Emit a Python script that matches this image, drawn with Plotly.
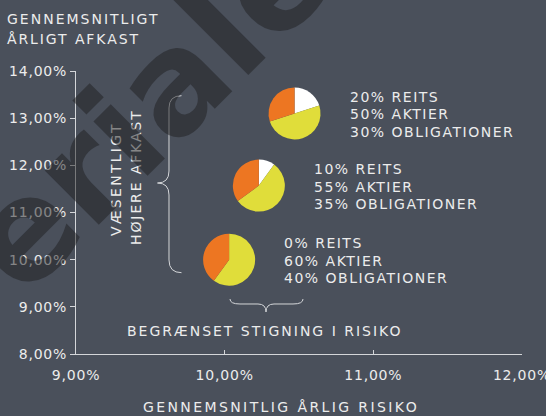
import plotly.graph_objects as go

# ---- data ----
risk = [10.03, 10.23, 10.47]          # gennemsnitlig årlig risiko (%)
ret = [10.0, 11.57, 13.1]             # gennemsnitligt årligt afkast (%)
reits = [0, 10, 20]
aktier = [60, 55, 50]
oblig = [40, 35, 30]
slice_names = ["REITS", "AKTIER", "OBLIGATIONER"]
slice_colors = ["#ffffff", "#e0dd3a", "#ed7622"]
xtick_vals = [9, 10, 11, 12]
xtick_text = ["9,00%", "10,00%", "11,00%", "12,00%"]
ytick_vals = [8, 9, 10, 11, 12, 13, 14]
ytick_text = ["8,00%", "9,00%", "10,00%", "11,00%", "12,00%", "13,00%", "14,00%"]

# ---- layout geometry ----
W, H = 546, 416
ML, MR, MT, MB = 76, 24, 71, 62
PW, PH = W - ML - MR, H - MT - MB
XR, YR = (9, 12), (8, 14)
R = 26  # pie radius px
BG = "#4a505b"
TXT = "#ececec"
LINE = "#d4d6d9"
FONT = "DejaVu Sans"
FS = 14


def ls(text, sp):
    return f'<span style="letter-spacing:{sp}px">{text}</span>'


def xf(v):
    return (v - XR[0]) / (XR[1] - XR[0])


def yf(v):
    return (v - YR[0]) / (YR[1] - YR[0])


def px(x):
    return (x - ML) / PW


def py(y):
    return (H - MB - y) / PH


fig = go.Figure()
fig.add_trace(go.Scatter(x=risk, y=ret, mode="markers", marker=dict(opacity=0),
                         hoverinfo="skip", showlegend=False))

for i in range(len(risk)):
    cx, cy = xf(risk[i]), yf(ret[i])
    fig.add_trace(go.Pie(
        values=[reits[i], aktier[i], oblig[i]], labels=slice_names,
        marker=dict(colors=slice_colors, line=dict(width=0)),
        sort=False, direction="clockwise", rotation=0,
        textinfo="none", hoverinfo="label+percent", showlegend=False,
        domain=dict(x=[cx - R / PW, cx + R / PW], y=[cy - R / PH, cy + R / PH]),
    ))

annotations = []
for i in range(len(risk)):
    lines = [f"{reits[i]}% REITS", f"{aktier[i]}% AKTIER", f"{oblig[i]}% OBLIGATIONER"]
    for j, t in enumerate(lines):
        annotations.append(dict(
            x=risk[i], y=ret[i], xref="x", yref="y", text=ls(t, 1.5), showarrow=False,
            xanchor="left", yanchor="middle", xshift=53, yshift=(1 - j) * 17.3 - 1,
            font=dict(family=FONT, size=FS, color=TXT)))

# titles and notes
annotations += [
    dict(x=px(5), y=py(19), xref="paper", yref="paper", text=ls("GENNEMSNITLIGT", 2),
         showarrow=False, xanchor="left", yanchor="middle",
         font=dict(family=FONT, size=FS, color=TXT)),
    dict(x=px(5), y=py(39), xref="paper", yref="paper", text=ls("ÅRLIGT AFKAST", 1.9),
         showarrow=False, xanchor="left", yanchor="middle",
         font=dict(family=FONT, size=FS, color=TXT)),
    dict(x=px(281), y=py(407), xref="paper", yref="paper",
         text=ls("GENNEMSNITLIG ÅRLIG RISIKO", 2.4),
         showarrow=False, xanchor="center", yanchor="middle",
         font=dict(family=FONT, size=FS, color=TXT)),
    dict(x=px(265), y=py(331), xref="paper", yref="paper",
         text=ls("BEGRÆNSET STIGNING I RISIKO", 2),
         showarrow=False, xanchor="center", yanchor="middle",
         font=dict(family=FONT, size=FS, color=TXT)),
    dict(x=px(116), y=py(179), xref="paper", yref="paper", text=ls("VÆSENTLIGT", 2.3),
         showarrow=False, xanchor="center", yanchor="middle", textangle=-90,
         font=dict(family=FONT, size=FS, color=TXT)),
    dict(x=px(136), y=py(177), xref="paper", yref="paper", text=ls("HØJERE AFKAST", 1.9),
         showarrow=False, xanchor="center", yanchor="middle", textangle=-90,
         font=dict(family=FONT, size=FS, color=TXT)),
    # watermark
    dict(x=px(147), y=py(107), xref="paper", yref="paper", text="eriale",
         showarrow=False, xanchor="center", yanchor="middle", textangle=-45,
         font=dict(family=FONT, size=140, color="rgba(30,30,32,0.5)", weight="bold")),
]


def pth(points):
    out = []
    for cmd, *coords in points:
        pts = " ".join(f"{px(coords[k]):.5f},{py(coords[k+1]):.5f}" for k in range(0, len(coords), 2))
        out.append(f"{cmd} {pts}")
    return " ".join(out)


vbrace = pth([
    ("M", 181.5, 95.7), ("Q", 169, 95.7, 169, 108), ("L", 169, 171),
    ("Q", 169, 183, 157.5, 183), ("Q", 169, 183, 169, 195), ("L", 169, 260),
    ("Q", 169, 272.7, 181.5, 272.7)])
hbrace = pth([
    ("M", 230, 299), ("Q", 230, 304, 240, 304), ("L", 258, 304),
    ("Q", 266, 304, 266, 312), ("Q", 266, 304, 274, 304), ("L", 293, 304),
    ("Q", 303, 304, 303, 299)])
shapes = [dict(type="path", path=p, xref="paper", yref="paper",
               line=dict(color=LINE, width=1)) for p in (vbrace, hbrace)]

fig.update_layout(
    width=W, height=H, margin=dict(l=ML, r=MR, t=MT, b=MB, autoexpand=False),
    paper_bgcolor=BG, plot_bgcolor=BG,
    annotations=annotations, shapes=shapes, showlegend=False,
    xaxis=dict(range=list(XR), tickvals=xtick_vals, ticktext=[ls(t, 0.8) for t in xtick_text],
               showgrid=False, zeroline=False, showline=True, linecolor=LINE, linewidth=1,
               ticks="inside", ticklen=4, tickcolor=LINE, ticklabelstandoff=8,
               ticklabeloverflow="allow", automargin=False,
               tickfont=dict(family=FONT, size=FS, color=TXT), fixedrange=True),
    yaxis=dict(range=list(YR), tickvals=ytick_vals, ticktext=[ls(t, 0.8) for t in ytick_text],
               showgrid=False, zeroline=False, showline=True, linecolor=LINE, linewidth=1,
               ticks="outside", ticklen=5, tickcolor=LINE, automargin=False,
               tickfont=dict(family=FONT, size=FS, color=TXT), fixedrange=True),
)

fig.write_html("out.html")
